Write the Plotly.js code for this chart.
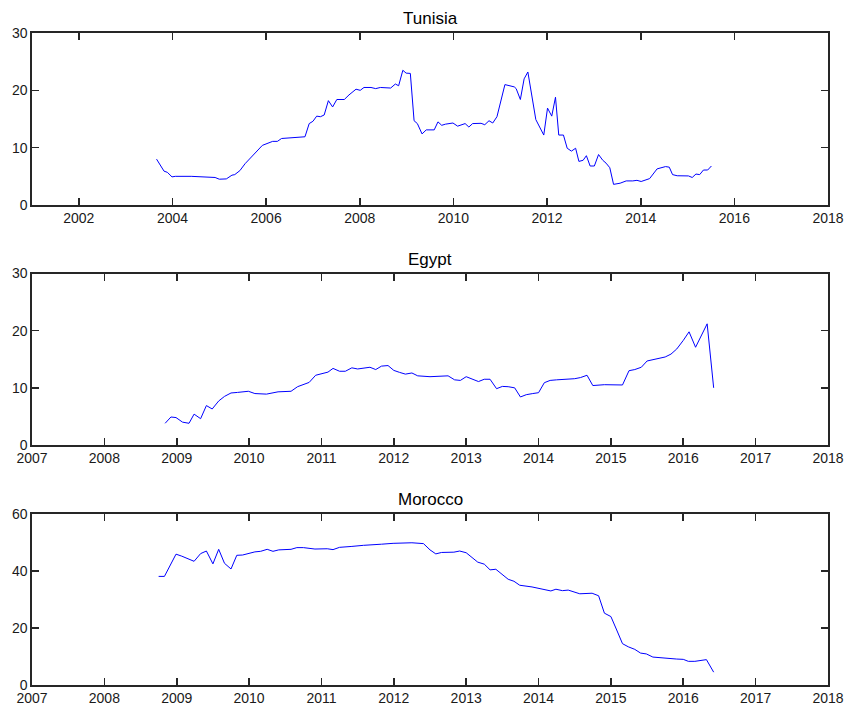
<!DOCTYPE html>
<html>
<head>
<meta charset="utf-8">
<script src="https://cdn.plot.ly/plotly-3.0.1.min.js"></script>
<style>html,body{margin:0;padding:0;background:#fff;}#chart{width:844px;height:706px;}</style>
</head>
<body>
<div id="chart"></div>
<script>
const tunisiaYears = [2003.66,2003.82,2003.89,2003.99,2004.06,2004.40,2004.91,2005.00,2005.15,2005.27,2005.33,2005.44,2005.55,2005.92,2006.14,2006.24,2006.33,2006.58,2006.64,2006.83,2006.92,2007.00,2007.08,2007.16,2007.24,2007.33,2007.42,2007.51,2007.67,2007.77,2007.92,2008.01,2008.09,2008.24,2008.34,2008.44,2008.66,2008.76,2008.83,2008.92,2008.99,2009.08,2009.16,2009.23,2009.33,2009.42,2009.59,2009.67,2009.75,2009.83,2009.99,2010.09,2010.25,2010.33,2010.41,2010.59,2010.67,2010.76,2010.84,2010.93,2011.10,2011.18,2011.30,2011.34,2011.43,2011.51,2011.59,2011.76,2011.93,2012.01,2012.10,2012.18,2012.25,2012.35,2012.43,2012.52,2012.61,2012.68,2012.77,2012.84,2012.92,2013.01,2013.10,2013.19,2013.26,2013.34,2013.42,2013.56,2013.69,2013.83,2013.92,2014.01,2014.10,2014.19,2014.35,2014.42,2014.53,2014.61,2014.68,2014.78,2015.02,2015.10,2015.18,2015.26,2015.34,2015.43,2015.51];
const tunisiaValues = [8.0,5.9,5.7,4.9,5.0,5.0,4.8,4.5,4.55,5.2,5.3,6.0,7.2,10.4,11.1,11.1,11.6,11.7,11.8,11.9,14.2,14.6,15.5,15.4,15.7,18.2,17.1,18.4,18.4,19.2,20.2,20.0,20.5,20.5,20.3,20.5,20.4,21.1,20.8,23.5,23.0,22.95,14.7,14.2,12.4,13.1,13.1,14.5,13.9,14.1,14.3,13.75,14.2,13.6,14.2,14.25,14.0,14.7,14.3,15.4,21.0,20.8,20.6,20.3,18.4,22.0,23.2,14.9,12.2,16.9,15.5,18.8,12.2,12.2,9.9,9.4,9.9,7.6,7.8,8.6,6.8,6.8,8.8,7.8,7.3,6.5,3.6,3.8,4.2,4.2,4.3,4.1,4.4,4.6,6.3,6.5,6.7,6.6,5.3,5.1,5.07,4.8,5.4,5.3,6.1,6.1,6.8];

const egyptYears = [2008.84,2008.92,2008.99,2009.08,2009.17,2009.24,2009.33,2009.41,2009.49,2009.58,2009.66,2009.75,2009.84,2009.99,2010.08,2010.24,2010.40,2010.58,2010.67,2010.76,2010.83,2010.92,2011.00,2011.09,2011.16,2011.25,2011.33,2011.42,2011.50,2011.58,2011.67,2011.75,2011.83,2011.92,2012.00,2012.08,2012.16,2012.25,2012.33,2012.50,2012.75,2012.84,2012.92,2013.00,2013.09,2013.17,2013.25,2013.33,2013.42,2013.50,2013.58,2013.67,2013.75,2013.83,2013.92,2014.00,2014.08,2014.16,2014.25,2014.41,2014.50,2014.58,2014.67,2014.75,2014.91,2015.16,2015.25,2015.33,2015.42,2015.50,2015.58,2015.67,2015.75,2015.83,2015.91,2016.00,2016.08,2016.17,2016.25,2016.33,2016.42];
const egyptValues = [3.8,4.9,4.8,4.0,3.8,5.4,4.6,6.9,6.3,7.7,8.5,9.1,9.2,9.4,9.0,8.9,9.3,9.4,10.2,10.6,10.95,12.2,12.5,12.75,13.4,12.9,12.9,13.5,13.3,13.4,13.6,13.2,13.8,13.9,13.05,12.7,12.4,12.6,12.1,11.95,12.1,11.4,11.3,11.95,11.5,11.1,11.5,11.5,9.85,10.25,10.2,10.0,8.4,8.8,9.0,9.15,10.9,11.3,11.4,11.5,11.6,11.8,12.2,10.4,10.55,10.5,13.0,13.2,13.6,14.7,14.9,15.15,15.4,15.9,16.8,18.3,19.8,17.1,19.2,21.2,10.0];

const moroccoYears = [2008.75,2008.83,2008.99,2009.07,2009.24,2009.33,2009.41,2009.50,2009.58,2009.66,2009.75,2009.83,2009.91,2010.00,2010.08,2010.16,2010.25,2010.33,2010.41,2010.58,2010.66,2010.75,2010.91,2011.08,2011.16,2011.25,2011.33,2011.41,2011.58,2011.75,2011.83,2011.99,2012.16,2012.25,2012.41,2012.50,2012.58,2012.66,2012.83,2012.91,2013.00,2013.08,2013.16,2013.25,2013.33,2013.41,2013.50,2013.58,2013.66,2013.74,2013.91,2014.00,2014.08,2014.17,2014.24,2014.33,2014.41,2014.49,2014.57,2014.74,2014.83,2014.91,2015.00,2015.08,2015.16,2015.24,2015.33,2015.41,2015.49,2015.58,2015.66,2015.74,2015.83,2015.91,2016.00,2016.07,2016.16,2016.24,2016.32,2016.42];
const moroccoValues = [38.1,38.1,45.9,45.2,43.4,46.1,47.0,42.5,47.6,42.7,40.7,45.5,45.6,46.2,46.7,46.9,47.6,46.9,47.4,47.6,48.2,48.2,47.7,47.8,47.5,48.3,48.4,48.6,49.0,49.1,49.4,49.7,49.7,49.9,49.6,47.4,46.0,46.5,46.6,47.0,46.4,44.7,43.1,42.4,40.4,40.6,38.9,37.1,36.4,35.0,34.4,34.0,33.5,33.0,33.6,33.1,33.3,32.7,32.0,32.2,31.3,25.2,24.0,19.3,14.5,13.4,12.5,11.2,10.9,9.8,9.6,9.5,9.1,9.1,9.0,8.3,8.3,8.6,8.9,4.5];

const titles = ['Tunisia', 'Egypt', 'Morocco'];

const lineStyle = {color: '#0000ff', width: 1};
const traces = [
  {x: tunisiaYears, y: tunisiaValues, xaxis: 'x', yaxis: 'y', type: 'scatter', mode: 'lines', line: lineStyle, hoverinfo: 'skip'},
  {x: egyptYears, y: egyptValues, xaxis: 'x2', yaxis: 'y2', type: 'scatter', mode: 'lines', line: lineStyle, hoverinfo: 'skip'},
  {x: moroccoYears, y: moroccoValues, xaxis: 'x3', yaxis: 'y3', type: 'scatter', mode: 'lines', line: lineStyle, hoverinfo: 'skip'}
];

const axBase = {
  showline: true, mirror: 'ticks', linecolor: '#262626', linewidth: 1.6,
  ticks: 'inside', ticklen: 7, tickwidth: 1.6, tickcolor: '#262626',
  showgrid: false, zeroline: false, fixedrange: true,
  tickfont: {family: 'Liberation Sans, Arial, sans-serif', size: 14, color: '#1a1a1a'}
};

const domains = [[0.7362, 1.0], [0.3681, 0.6311], [0.0, 0.2623]];

const layout = {
  width: 844, height: 706,
  margin: {l: 32, r: 16, t: 33, b: 21},
  paper_bgcolor: '#ffffff', plot_bgcolor: '#ffffff',
  showlegend: false,
  font: {family: 'Liberation Sans, Arial, sans-serif', size: 14, color: '#1a1a1a'},
  xaxis: Object.assign({}, axBase, {domain: [0, 1], anchor: 'y', range: [2001, 2018], tickmode: 'linear', tick0: 2002, dtick: 2, tickformat: 'd'}),
  yaxis: Object.assign({}, axBase, {domain: domains[0], anchor: 'x', range: [0, 30], tickmode: 'linear', tick0: 0, dtick: 10}),
  xaxis2: Object.assign({}, axBase, {domain: [0, 1], anchor: 'y2', range: [2007, 2018], tickmode: 'linear', tick0: 2007, dtick: 1, tickformat: 'd'}),
  yaxis2: Object.assign({}, axBase, {domain: domains[1], anchor: 'x2', range: [0, 30], tickmode: 'linear', tick0: 0, dtick: 10}),
  xaxis3: Object.assign({}, axBase, {domain: [0, 1], anchor: 'y3', range: [2007, 2018], tickmode: 'linear', tick0: 2007, dtick: 1, tickformat: 'd'}),
  yaxis3: Object.assign({}, axBase, {domain: domains[2], anchor: 'x3', range: [0, 60], tickmode: 'linear', tick0: 0, dtick: 20}),
  annotations: titles.map((t, i) => ({
    text: t, xref: 'paper', yref: 'paper', x: 0.5, y: domains[i][1],
    xanchor: 'center', yanchor: 'bottom', yshift: 3, showarrow: false,
    font: {family: 'Liberation Sans, Arial, sans-serif', size: 17, color: '#000000'}
  }))
};

Plotly.newPlot('chart', traces, layout, {displayModeBar: false, staticPlot: true});
</script>
</body>
</html>
